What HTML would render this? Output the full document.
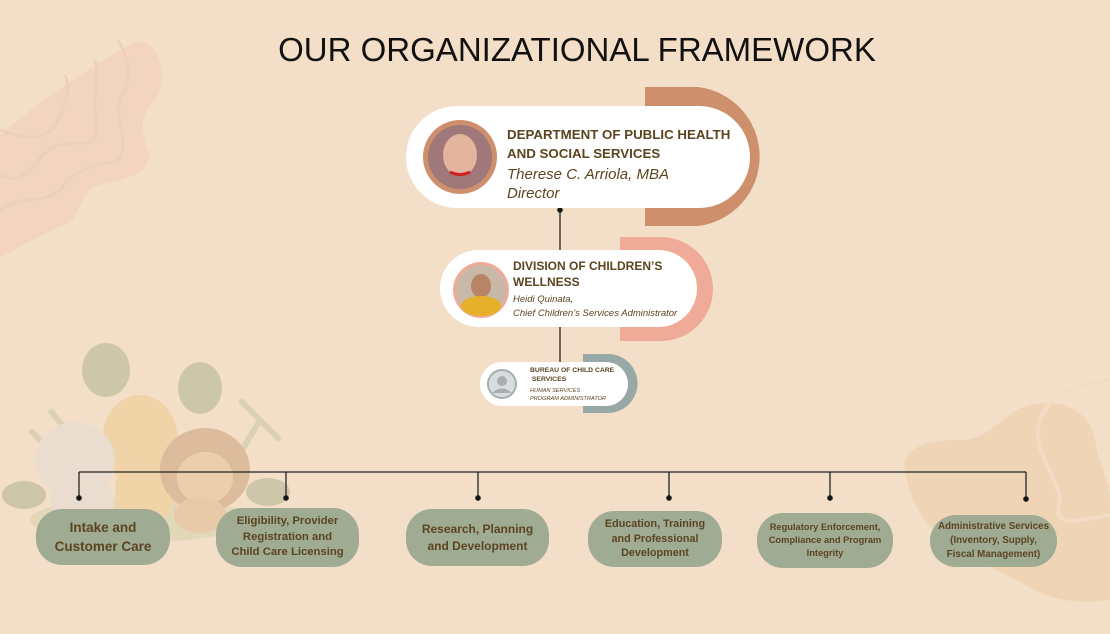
<!DOCTYPE html>
<html><head><meta charset="utf-8"><style>
*{margin:0;padding:0;box-sizing:border-box}
body{width:1110px;height:634px;overflow:hidden;background:#f3dfc7;position:relative;font-family:"Liberation Sans",sans-serif;color:#5a4520}
.a{position:absolute}
.pill{position:absolute;background:#fff;border-radius:60px}
.box{position:absolute;background:#a0ab93;border-radius:26px;display:flex;align-items:center;justify-content:center;text-align:center;font-weight:bold;color:#5a4520}
.b{font-weight:bold;white-space:nowrap}
.i{font-style:italic;white-space:nowrap}
</style></head><body>
<svg class="a" style="left:0;top:0" width="1110" height="634">
  <path d="M0 135 C40 100 100 60 135 42 C160 38 170 80 155 100 C140 115 140 130 148 150 C155 175 120 180 100 185 C80 190 80 215 70 222 C50 232 30 240 0 258 Z" fill="#f3d4c0"/>
  <path d="M0 130 C30 140 50 145 62 110 C68 95 70 85 65 75" stroke="#ecd1b8" stroke-width="3" fill="none"/>
  <path d="M0 175 C30 190 35 150 60 145 C90 140 100 150 96 120 C92 95 100 80 95 60" stroke="#ecd1b8" stroke-width="3" fill="none"/>
  <path d="M0 210 C20 195 40 205 60 190 C75 170 90 165 115 162 C130 155 120 125 118 110 C120 90 140 80 118 40" stroke="#ecd1b8" stroke-width="3" fill="none"/>
  <path d="M905 470 C900 445 935 440 960 440 C985 440 1000 420 1020 408 C1060 395 1090 410 1095 440 C1100 470 1110 480 1110 500 L1110 600 C1080 605 1050 600 1025 585 C1000 570 970 560 945 540 C920 520 910 500 905 470 Z" fill="#efd4b6"/>
  <path d="M1110 380 C1080 385 1050 390 1040 420 C1030 450 1060 480 1060 500 C1050 530 1080 520 1110 515" stroke="#f2dcc4" stroke-width="4" fill="none"/>
  <g opacity="0.5">
    <ellipse cx="140" cy="520" rx="110" ry="22" fill="#d3d0a8"/>
    <ellipse cx="106" cy="370" rx="24" ry="27" fill="#a9b08f"/>
    <ellipse cx="200" cy="388" rx="22" ry="26" fill="#a9b08f"/>
    <path d="M30 430 L70 470 M50 410 L90 460 M240 400 L280 440 M260 420 L230 470" stroke="#c6c4a0" stroke-width="6"/>
    <ellipse cx="140" cy="440" rx="38" ry="45" fill="#f0c88a"/>
    <ellipse cx="145" cy="490" rx="30" ry="35" fill="#f0c88a"/>
    <ellipse cx="75" cy="460" rx="40" ry="38" fill="#e2ddd8"/>
    <ellipse cx="82" cy="500" rx="32" ry="26" fill="#e2ddd8"/>
    <ellipse cx="205" cy="470" rx="45" ry="42" fill="#c99a75"/>
    <ellipse cx="205" cy="478" rx="28" ry="26" fill="#e5bf95"/>
    <ellipse cx="200" cy="515" rx="26" ry="18" fill="#dfb58a"/>
    <ellipse cx="24" cy="495" rx="22" ry="14" fill="#a9af8c"/>
    <ellipse cx="268" cy="492" rx="22" ry="14" fill="#a9af8c"/>
  </g>
  <path d="M645 87 H698 A70 70 0 0 1 698 226 H645 Z" fill="#cd8f6c"/>
  <path d="M620 237 H661 A52 52 0 0 1 661 341 H620 Z" fill="#efab97"/>
  <path d="M583 354 H608 A29.5 29.5 0 0 1 608 413 H583 Z" fill="#97a8a6"/>
  <g stroke="#222" stroke-width="1.3" fill="#111">
    <line x1="560" y1="210" x2="560" y2="252"/>
    <line x1="560" y1="327" x2="560" y2="364"/>
    <line x1="79" y1="472" x2="1026" y2="472"/>
    <line x1="79" y1="472" x2="79" y2="498"/>
    <line x1="286" y1="472" x2="286" y2="498"/>
    <line x1="478" y1="472" x2="478" y2="498"/>
    <line x1="669" y1="472" x2="669" y2="498"/>
    <line x1="830" y1="472" x2="830" y2="498"/>
    <line x1="1026" y1="472" x2="1026" y2="499"/>
    <circle cx="560" cy="210" r="2.2"/>
    <circle cx="79" cy="498" r="2.2"/><circle cx="286" cy="498" r="2.2"/><circle cx="478" cy="498" r="2.2"/>
    <circle cx="669" cy="498" r="2.2"/><circle cx="830" cy="498" r="2.2"/><circle cx="1026" cy="499" r="2.2"/>
  </g>
</svg>

<div class="a" style="left:0;top:31px;width:1154px;text-align:center;font-size:33px;color:#111">OUR ORGANIZATIONAL FRAMEWORK</div>

<div class="pill" style="left:406px;top:106px;width:344px;height:102px;border-radius:51px"></div>
<svg class="a" style="left:420px;top:117px" width="80" height="80"><circle cx="40" cy="40" r="37" fill="#cd8f6c"/><circle cx="40" cy="40" r="32" fill="#a0787a"/><ellipse cx="40" cy="38" rx="17" ry="21" fill="#e3b49e"/><path d="M30 55 Q40 60 50 55" stroke="#c22" stroke-width="3" fill="none"/></svg>
<div class="a b" style="left:507px;top:125px;font-size:13.3px;line-height:19px">DEPARTMENT OF PUBLIC HEALTH<br>AND SOCIAL SERVICES</div>
<div class="a i" style="left:507px;top:165px;font-size:15px;line-height:19px">Therese C. Arriola, MBA<br>Director</div>

<div class="pill" style="left:440px;top:250px;width:257px;height:77px;border-radius:39px"></div>
<svg class="a" style="left:451px;top:260px" width="60" height="60"><circle cx="30" cy="30" r="28" fill="#efab97"/><circle cx="30" cy="30" r="25" fill="#c9b8a8"/><ellipse cx="30" cy="26" rx="10" ry="12" fill="#b78565"/><ellipse cx="30" cy="46" rx="20" ry="10" fill="#e6b02a"/></svg>
<div class="a b" style="left:513px;top:258px;font-size:12px;line-height:16px">DIVISION OF CHILDREN’S<br>WELLNESS</div>
<div class="a i" style="left:513px;top:293px;font-size:9.5px;line-height:14px">Heidi Quinata,<br>Chief Children’s Services Administrator</div>

<div class="pill" style="left:480px;top:362px;width:148px;height:44px;border-radius:22px"></div>
<svg class="a" style="left:486px;top:368px" width="32" height="32"><circle cx="16" cy="16" r="15" fill="#a4b0b0"/><circle cx="16" cy="16" r="13" fill="#d8dcdc"/><circle cx="16" cy="13" r="5" fill="#a9adb0"/><path d="M6 25 Q16 16 26 25" fill="#a9adb0"/></svg>
<div class="a b" style="left:530px;top:366px;font-size:6.8px;line-height:9px">BUREAU OF CHILD CARE<br>&nbsp;SERVICES</div>
<div class="a i" style="left:530px;top:387px;font-size:5.6px;line-height:8px">HUMAN SERVICES<br>PROGRAM ADMINISTRATOR</div>

<div class="box" style="left:36px;top:509px;width:134px;height:56px;font-size:13.5px;line-height:19px">Intake and<br>Customer Care</div>
<div class="box" style="left:216px;top:508px;width:143px;height:59px;font-size:11.3px;line-height:15.5px">Eligibility, Provider<br>Registration and<br>Child Care Licensing</div>
<div class="box" style="left:406px;top:509px;width:143px;height:57px;font-size:12px;line-height:17px">Research, Planning<br>and Development</div>
<div class="box" style="left:588px;top:511px;width:134px;height:56px;font-size:10.8px;line-height:14.5px">Education, Training<br>and Professional<br>Development</div>
<div class="box" style="left:757px;top:513px;width:136px;height:55px;font-size:9.3px;line-height:13px">Regulatory Enforcement,<br>Compliance and Program<br>Integrity</div>
<div class="box" style="left:930px;top:515px;width:127px;height:52px;font-size:9.8px;line-height:14px">Administrative Services<br>(Inventory, Supply,<br>Fiscal Management)</div>
</body></html>
